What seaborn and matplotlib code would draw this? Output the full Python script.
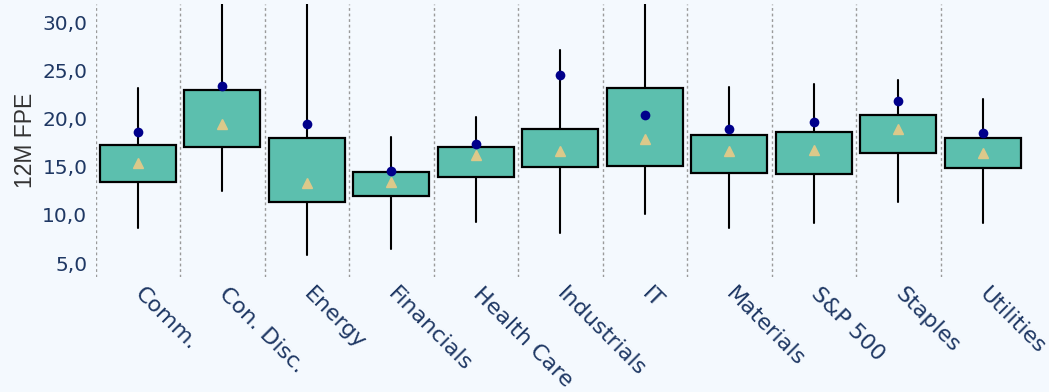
import numpy as np
import matplotlib
matplotlib.use('Agg')
import matplotlib.pyplot as plt
import seaborn as sns

# ---------------------------------------------------------
# Data
# ---------------------------------------------------------
sectors = ['Comm.', 'Con. Disc.', 'Energy', 'Financials', 'Health Care',
           'Industrials', 'IT', 'Materials', 'S&P 500', 'Staples', 'Utilities']
whisk_lo = [8.6, 12.5, 5.8, 6.5, 9.3, 8.1, 10.1, 8.6, 9.2, 11.3, 9.2]
q1 = [13.4, 17.0, 11.3, 11.95, 13.9, 15.0, 15.1, 14.3, 14.2, 16.4, 14.85]
q3 = [17.3, 23.0, 18.0, 14.4, 17.0, 18.9, 23.15, 18.3, 18.6, 20.35, 18.0]
whisk_hi = [23.2, 36.0, 36.0, 18.1, 20.2, 27.1, 36.0, 23.3, 23.6, 24.0, 22.0]
avg = [15.4, 19.4, 13.3, 13.4, 16.2, 16.6, 17.9, 16.6, 16.7, 18.9, 16.4]
current = [18.6, 23.4, 19.4, 14.6, 17.4, 24.5, 20.4, 18.9, 19.6, 21.8, 18.5]
y_ticks = [5, 10, 15, 20, 25, 30]

# ---------------------------------------------------------
# Style
# ---------------------------------------------------------
bg_color = '#f4f9fe'
text_color = '#1f3864'
box_color = '#5cbfae'
tri_color = '#dcc98a'
dot_color = '#00008b'

sns.set_theme(style='white')
plt.rcParams['font.family'] = ['DejaVu Sans']

fig = plt.figure(figsize=(10.49, 3.92), dpi=100, facecolor=bg_color)
ax = fig.add_axes([0.0912, 0.2934, 0.886, 0.6966])
ax.set_facecolor(bg_color)

# current values (dots)
sns.stripplot(x=sectors, y=current, jitter=False, color=dot_color, size=7,
              linewidth=0, zorder=5, ax=ax)

# boxes from summary stats
stats = []
for i, name in enumerate(sectors):
    stats.append({'label': name, 'whislo': whisk_lo[i], 'q1': q1[i],
                  'med': avg[i], 'q3': q3[i], 'whishi': whisk_hi[i],
                  'mean': avg[i], 'fliers': []})

ax.bxp(stats, positions=np.arange(len(sectors)), widths=0.9,
       patch_artist=True, showcaps=False, showfliers=False, showmeans=True,
       boxprops=dict(facecolor=box_color, edgecolor='black', linewidth=1.6),
       whiskerprops=dict(color='black', linewidth=1.5),
       medianprops=dict(linewidth=0),
       meanprops=dict(marker='^', markerfacecolor=tri_color,
                      markeredgecolor=tri_color, markersize=6.5),
       manage_ticks=False, zorder=3)

# ---------------------------------------------------------
# Axes, ticks, grid
# ---------------------------------------------------------
ax.set_xlim(-0.5, len(sectors) - 0.5)
ax.set_ylim(3.55, 31.9)
ax.set_yticks(y_ticks)
ax.set_yticklabels([f'{v:.1f}'.replace('.', ',') for v in y_ticks])
ax.set_xticks(np.arange(len(sectors)))
ax.set_xticklabels(sectors, rotation=-45, ha='left', va='center',
                   rotation_mode='anchor')
ax.tick_params(axis='x', length=0, pad=10, labelsize=16, labelcolor=text_color)
ax.tick_params(axis='y', length=0, pad=6, labelsize=14.5, labelcolor=text_color)

# dotted separators between categories
ax.set_xticks(np.arange(len(sectors)) - 0.5, minor=True)
ax.tick_params(which='minor', length=0)
ax.grid(False)
ax.grid(which='minor', axis='x', color='#9a9a9a', linestyle=(0, (2, 2)),
        linewidth=1)

ax.set_ylabel('12M FPE', color='#333333', fontsize=16.5,
              fontfamily='Liberation Sans', labelpad=4)
ax.set_xlabel('')

for s in ax.spines.values():
    s.set_visible(False)

fig.savefig('out.png', dpi=100, facecolor=fig.get_facecolor())
